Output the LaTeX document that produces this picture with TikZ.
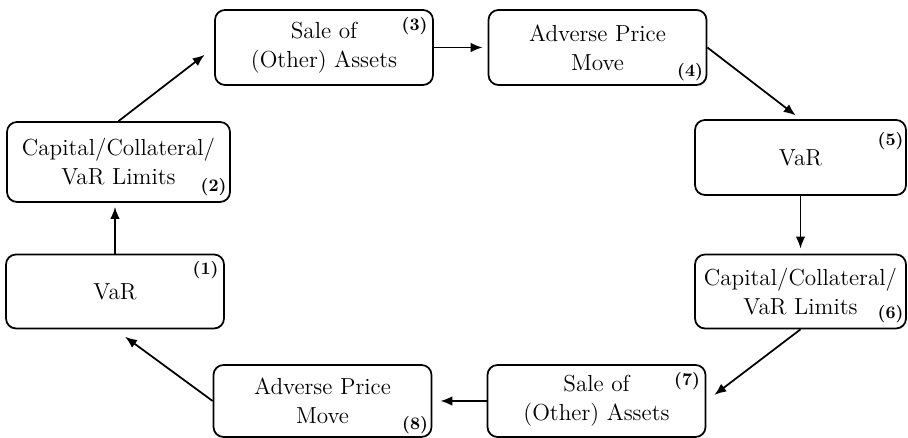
\documentclass[tikz,border=0pt]{standalone}
\usetikzlibrary{arrows.meta}

\tikzset{
  stage/.style={draw, line width=0.035cm, rounded corners=0.2cm,
    minimum width=4.36cm, minimum height=1.48cm, align=center,
    inner sep=0pt, font=\fontsize{13.2}{16.5}\selectfont},
  tag/.style={inner sep=0pt, font=\fontsize{10}{12}\selectfont\bfseries},
  flow/.style={line width=0.035cm, -{Latex[length=2.4mm,width=1.9mm]}}
}

\begin{document}
\begin{tikzpicture}
            \useasboundingbox (0,0) rectangle (18.160000,8.760000);
            
            % Stage 1: VaR
            \node [stage] (var1) at (2.300000,2.930000) {VaR};%
            \node [tag, anchor=north east] (tag1) at ([shift={(-0.120000,-0.150000)}]var1.north east) {(1)};%
            
            % Stage 2: limits
            \node [stage, minimum width=4.46cm, minimum height=1.6cm] (lim2) at (2.370000,5.520000) {Capital/Collateral/\\VaR Limits};%
            \node [tag, anchor=south east] (tag2) at ([shift={(-0.080000,0.140000)}]lim2.south east) {(2)};%
            
            % Stage 3: sale
            \node [stage, minimum height=1.5cm] (sale3) at (6.480000,7.810000) {Sale of\\(Other) Assets};%
            \node [tag, anchor=north east] (tag3) at ([shift={(-0.120000,-0.150000)}]sale3.north east) {(3)};%
            
            % Stage 4: price move
            \node [stage, minimum height=1.5cm] (move4) at (11.950000,7.810000) {Adverse Price\\Move};%
            \node [tag, anchor=south east] (tag4) at ([shift={(-0.080000,0.100000)}]move4.south east) {(4)};%
            
            % Stage 5: VaR
            \node [stage, minimum width=4.22cm, minimum height=1.5cm] (var5) at (16.010000,5.610000) {VaR};%
            \node [tag, anchor=north east] (tag5) at ([shift={(-0.060000,-0.250000)}]var5.north east) {(5)};%
            
            % Stage 6: limits
            \node [stage, minimum width=4.22cm] (lim6) at (16.010000,2.930000) {Capital/Collateral/\\VaR Limits};%
            \node [tag, anchor=south east] (tag6) at ([shift={(-0.060000,0.120000)}]lim6.south east) {(6)};%
            
            % Stage 7: sale
            \node [stage, minimum height=1.44cm] (sale7) at (11.930000,0.740000) {Sale of\\(Other) Assets};%
            \node [tag, anchor=north east] (tag7) at ([shift={(-0.120000,-0.150000)}]sale7.north east) {(7)};%
            
            % Stage 8: price move
            \node [stage, minimum height=1.44cm] (move8) at (6.450000,0.740000) {Adverse Price\\Move};%
            \node [tag, anchor=south east] (tag8) at ([shift={(-0.080000,0.080000)}]move8.south east) {(8)};%
            
            % Drawing the loop
            \draw [flow, shorten >=0.08cm] (var1.north) -- (var1.north |- lim2.south);%
            \draw [flow, shorten >=0.24cm] (lim2.north) -- (sale3.west);%
            \draw [flow, shorten >=0.10cm] (sale3.east) -- (move4.west);%
            \draw [flow, shorten >=0.12cm] (move4.east) -- (var5.north);%
            \draw [flow, shorten >=0.10cm] (var5.south) -- (lim6.north);%
            \draw [flow, shorten >=0.20cm] (lim6.south) -- (sale7.east);%
            \draw [flow, shorten >=0.16cm] (sale7.west) -- (move8.east);%
            \draw [flow, shorten >=0.25cm] (move8.west) -- (var1.south);%
\end{tikzpicture}
\end{document}
